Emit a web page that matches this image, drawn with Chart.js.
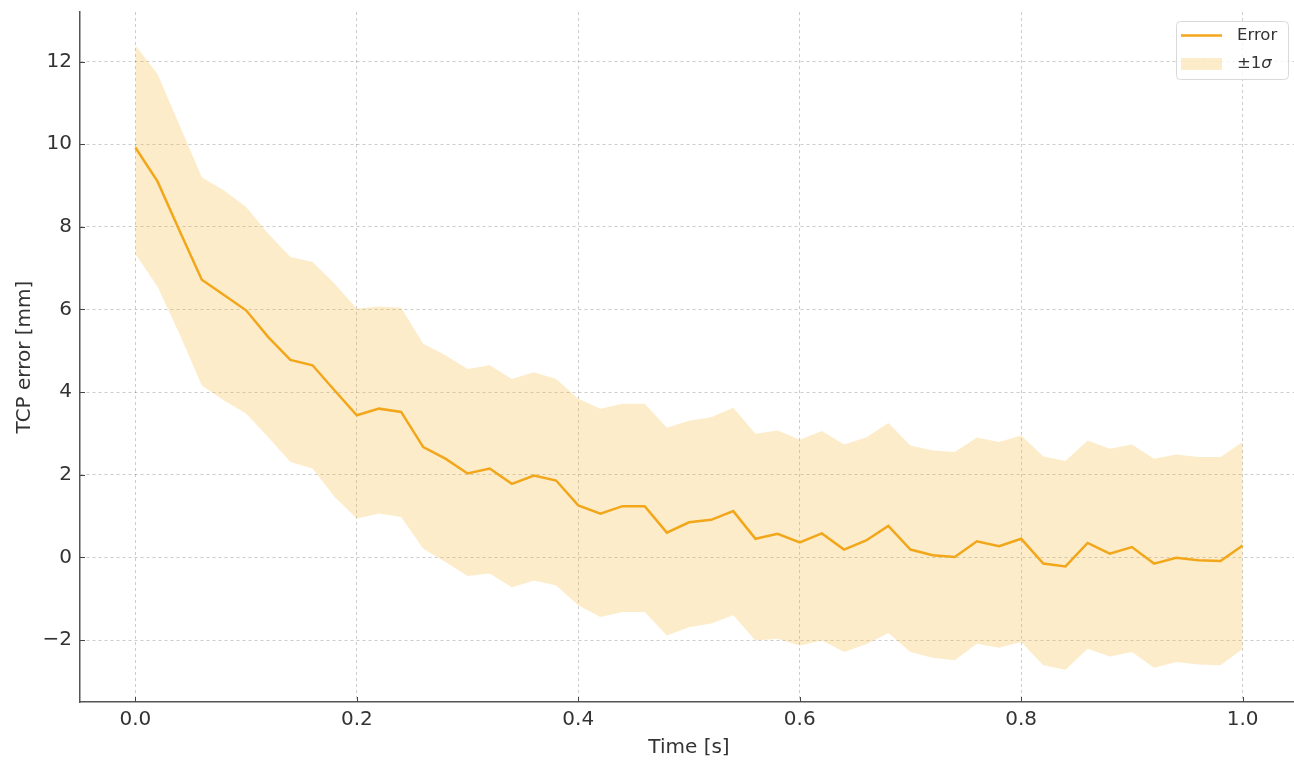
<!DOCTYPE html>
<html>
<head>
<meta charset="utf-8">
<script src="https://cdn.jsdelivr.net/npm/chart.js@4.4.1/dist/chart.umd.min.js"></script>
<style>
  html, body { margin: 0; padding: 0; background: #fff; overflow: hidden; }
  #wrap { width: 1300px; height: 760px; }
</style>
</head>
<body>
<div id="wrap"><canvas id="c" width="1300" height="760"></canvas></div>
<script>
const timeS = [0.00,0.02,0.04,0.06,0.08,0.10,0.12,0.14,0.16,0.18,0.20,0.22,0.24,0.26,0.28,0.30,0.32,0.34,0.36,0.38,0.40,0.42,0.44,0.46,0.48,0.50,0.52,0.54,0.56,0.58,0.60,0.62,0.64,0.66,0.68,0.70,0.72,0.74,0.76,0.78,0.80,0.82,0.84,0.86,0.88,0.90,0.92,0.94,0.96,0.98,1.00];
const errorMean = [9.92,9.10,7.90,6.72,6.35,5.98,5.33,4.78,4.65,4.04,3.44,3.60,3.52,2.67,2.39,2.03,2.15,1.78,1.98,1.86,1.26,1.06,1.24,1.24,0.60,0.85,0.91,1.12,0.45,0.57,0.36,0.58,0.19,0.41,0.76,0.19,0.05,0.01,0.39,0.27,0.45,-0.15,-0.22,0.35,0.09,0.25,-0.15,-0.01,-0.07,-0.09,0.29];
const bandUpper = [12.39,11.70,10.45,9.20,8.88,8.48,7.83,7.27,7.15,6.62,6.02,6.07,6.04,5.17,4.89,4.56,4.65,4.32,4.48,4.32,3.84,3.60,3.72,3.72,3.14,3.31,3.39,3.62,2.99,3.07,2.85,3.06,2.73,2.90,3.25,2.71,2.59,2.55,2.90,2.79,2.95,2.44,2.33,2.83,2.63,2.73,2.39,2.49,2.43,2.43,2.79];
const bandLower = [7.35,6.55,5.40,4.16,3.80,3.48,2.91,2.31,2.15,1.46,0.94,1.06,0.98,0.21,-0.11,-0.45,-0.39,-0.72,-0.56,-0.68,-1.16,-1.44,-1.32,-1.32,-1.89,-1.69,-1.60,-1.40,-2.01,-1.97,-2.13,-2.01,-2.29,-2.10,-1.83,-2.29,-2.43,-2.49,-2.09,-2.19,-2.05,-2.61,-2.72,-2.21,-2.40,-2.29,-2.67,-2.53,-2.59,-2.61,-2.21];
const xTicks = [0.0,0.2,0.4,0.6,0.8,1.0];
const yTicks = [-2,0,2,4,6,8,10,12];
const seriesLabels = ['Error', '±1σ'];

const lineColor = '#F2A71B';
const bandColor = 'rgba(248,180,40,0.25)';
const textColor = '#333333';
const FONT = "'DejaVu Sans', sans-serif";

const pts = (arr) => arr.map((v, i) => ({x: timeS[i], y: v}));

const innerTicks = {
  id: 'innerTicks',
  afterDraw(chart) {
    const {ctx, chartArea, scales} = chart;
    ctx.save();
    ctx.strokeStyle = '#444';
    ctx.lineWidth = 1;
    ctx.beginPath();
    scales.x.ticks.forEach(t => {
      const px = Math.round(scales.x.getPixelForValue(t.value)) + 0.5;
      ctx.moveTo(px, chartArea.bottom);
      ctx.lineTo(px, chartArea.bottom - 5);
    });
    scales.y.ticks.forEach(t => {
      const py = Math.round(scales.y.getPixelForValue(t.value)) + 0.5;
      ctx.moveTo(chartArea.left, py);
      ctx.lineTo(chartArea.left + 5, py);
    });
    ctx.stroke();
    ctx.restore();
  }
};

const boxLegend = {
  id: 'boxLegend',
  afterDraw(chart) {
    const {ctx} = chart;
    const x = 1176.5, y = 21.5, w = 112, h = 58, r = 4;
    ctx.save();
    ctx.beginPath();
    ctx.roundRect(x, y, w, h, r);
    ctx.fillStyle = 'rgba(255,255,255,0.8)';
    ctx.fill();
    ctx.strokeStyle = '#d9d9d9';
    ctx.lineWidth = 1;
    ctx.stroke();
    ctx.strokeStyle = lineColor;
    ctx.lineWidth = 2.5;
    ctx.beginPath();
    ctx.moveTo(1181, 35.5);
    ctx.lineTo(1222, 35.5);
    ctx.stroke();
    ctx.fillStyle = bandColor;
    ctx.fillRect(1181, 58, 41, 12);
    ctx.fillStyle = textColor;
    ctx.textBaseline = 'middle';
    ctx.textAlign = 'left';
    ctx.font = "16.5px " + FONT;
    ctx.fillText(seriesLabels[0], 1237, 36);
    const lab = seriesLabels[1];
    const head = lab.slice(0, -1), tail = lab.slice(-1);
    ctx.fillText(head, 1237, 64);
    const wHead = ctx.measureText(head).width;
    ctx.font = "oblique 16.5px " + FONT;
    ctx.fillText(tail, 1237 + wHead, 64);
    ctx.restore();
  }
};

new Chart(document.getElementById('c'), {
  type: 'line',
  data: {
    datasets: [
      {
        label: 'lower',
        data: pts(bandLower),
        borderWidth: 0,
        pointRadius: 0,
        fill: false,
        order: 3
      },
      {
        label: seriesLabels[1],
        data: pts(bandUpper),
        borderWidth: 0,
        pointRadius: 0,
        backgroundColor: bandColor,
        fill: '-1',
        order: 2
      },
      {
        label: seriesLabels[0],
        data: pts(errorMean),
        borderColor: lineColor,
        borderWidth: 2.5,
        pointRadius: 0,
        fill: false,
        tension: 0,
        order: 1
      }
    ]
  },
  options: {
    responsive: false,
    animation: false,
    layout: { padding: { top: 12, left: 0, right: 2, bottom: 0 } },
    plugins: {
      legend: { display: false },
      tooltip: { enabled: false }
    },
    scales: {
      x: {
        type: 'linear',
        min: -0.05,
        max: 1.05,
        afterBuildTicks: (s) => { s.ticks = xTicks.map(v => ({value: v})); },
        afterFit: (s) => { s.height = 58; s.paddingLeft = 0; s.paddingRight = 0; },
        grid: { color: 'rgba(0,0,0,0.2)', lineWidth: 1, drawTicks: false },
        border: { display: true, color: '#555', width: 1.5, dash: [3, 3] },
        ticks: {
          padding: 6,
          color: textColor,
          font: { family: FONT, size: 20 },
          callback: (v) => v.toFixed(1)
        },
        title: {
          display: true,
          text: 'Time [s]',
          color: textColor,
          font: { family: FONT, size: 20 },
          padding: { top: 0, bottom: 0 }
        }
      },
      y: {
        type: 'linear',
        min: -3.5,
        max: 13.2,
        afterBuildTicks: (s) => { s.ticks = yTicks.map(v => ({value: v})); },
        afterFit: (s) => { s.width = 80; s.paddingTop = 0; s.paddingBottom = 0; },
        grid: { color: 'rgba(0,0,0,0.2)', lineWidth: 1, drawTicks: false },
        border: { display: true, color: '#555', width: 1.5, dash: [3, 3] },
        ticks: {
          padding: 8,
          color: textColor,
          font: { family: FONT, size: 20 },
          callback: (v) => (v < 0 ? '\u2212' + Math.abs(v) : String(v))
        },
        title: {
          display: true,
          text: 'TCP error [mm]',
          color: textColor,
          font: { family: FONT, size: 20 },
          padding: { top: 13, bottom: 0 }
        }
      }
    }
  },
  plugins: [innerTicks, boxLegend]
});
</script>
</body>
</html>
